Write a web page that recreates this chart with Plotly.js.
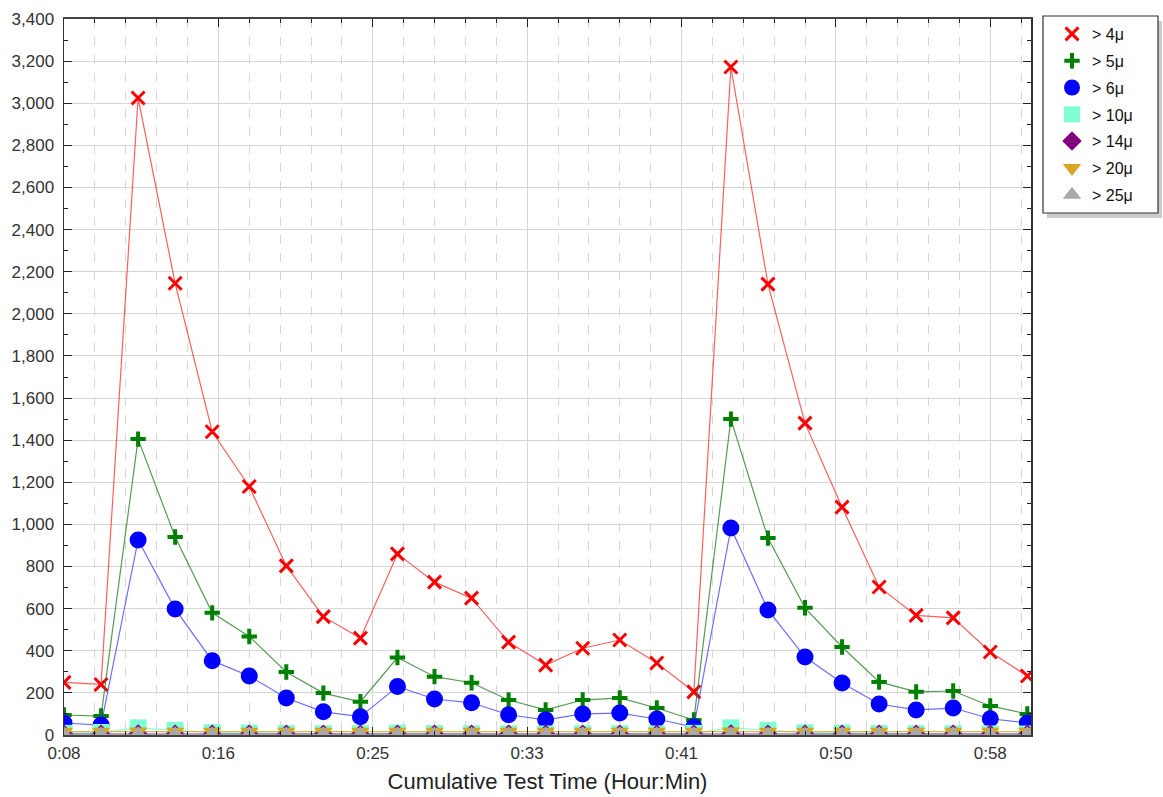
<!DOCTYPE html>
<html>
<head>
<meta charset="utf-8">
<script src="https://cdn.plot.ly/plotly-3.0.1.min.js"></script>
<style>
html,body{margin:0;padding:0;background:#fff;}
#chart{width:1163px;height:797px;}
</style>
</head>
<body>
<div id="chart"></div>
<script>
// Sample times (H:MM:SS of cumulative test time)
const times = ['0:08:20','0:10:20','0:12:20','0:14:20','0:16:20','0:18:20','0:20:20','0:22:20','0:24:20',
  '0:26:20','0:28:20','0:30:20','0:32:20','0:34:20','0:36:20','0:38:20','0:40:20','0:42:20',
  '0:44:20','0:46:20','0:48:20','0:50:20','0:52:20','0:54:20','0:56:20','0:58:20','1:00:20'];

const gt4  = [250,240,3025,2145,1440,1180,803,562,460,860,726,650,441,332,412,451,342,205,3172,2141,1481,1082,703,568,556,394,280];
const gt5  = [95,90,1405,940,580,468,299,199,158,368,277,248,166,119,166,176,128,71,1500,935,604,418,252,205,209,138,100];
const gt6  = [57,47,926,598,353,280,176,110,87,230,171,153,96,72,100,104,76,38,983,594,370,247,147,119,128,77,57];
const gt10 = [8,12,34,22,11,9,7,6,6,9,7,6,6,5,6,6,5,8,34,22,11,9,7,6,6,5,5];
const gt14 = [4,4,5,4,4,4,4,4,4,4,4,4,4,4,4,4,4,4,5,4,4,4,4,4,4,4,4];
const gt20 = [16,16,17,16,16,16,16,16,16,16,16,16,16,16,16,16,16,16,17,16,16,16,16,16,16,16,16];
const gt25 = [3,3,4,3,3,3,3,3,3,3,3,3,3,3,3,3,3,3,4,3,3,3,3,3,3,3,3];

const seriesNames = ['> 4\u03bc','> 5\u03bc','> 6\u03bc','> 10\u03bc','> 14\u03bc','> 20\u03bc','> 25\u03bc'];

// Axis ticks (times and their labels)
const tickTimes  = ['0:08:20','0:16:40','0:25:00','0:33:20','0:41:40','0:50:00','0:58:20'];
const tickLabels = ['0:08','0:16','0:25','0:33','0:41','0:50','0:58'];

function toSec(t){ const p=t.split(':').map(Number); return p[0]*3600+p[1]*60+p[2]; }
const xs = times.map(toSec);

const styles = [
  {color:'#ff0000', line:'rgba(255,40,40,0.75)', symbol:'x-thin', size:13, mline:{width:3,color:'#ff0000'}},
  {color:'#008000', line:'rgba(30,120,30,0.75)', symbol:'cross-thin', size:11, mline:{width:4,color:'#008000'}},
  {color:'#0000ff', line:'rgba(60,60,255,0.75)', symbol:'circle', size:17, mline:{width:0}},
  {color:'#7fffd4', line:'rgba(127,255,212,0.9)', symbol:'square', size:17, mline:{width:0}},
  {color:'#800080', line:'rgba(128,0,128,0.8)', symbol:'diamond', size:15, mline:{width:0}},
  {color:'#daa520', line:'rgba(218,165,32,0.8)', symbol:'triangle-down', size:16, mline:{width:0}},
  {color:'#a9a9a9', line:'rgba(169,169,169,0.8)', symbol:'triangle-up', size:16, mline:{width:0}}
];
const allValues = [gt4,gt5,gt6,gt10,gt14,gt20,gt25];

const traces = [];
allValues.forEach((vals,i)=>{
  const s = styles[i];
  traces.push({x:xs, y:vals, type:'scatter', mode:'lines', showlegend:false, hoverinfo:'skip',
    line:{color:s.line, width:1.2}, legendgroup:'g'+i});
  traces.push({x:xs, y:vals, type:'scatter', mode:'markers', name:seriesNames[i], legendgroup:'g'+i,
    marker:{symbol:s.symbol, size:s.size, color:s.color, line:s.mline}});
});

const FONT = 'Arial, "Liberation Sans", sans-serif';
const L=64, R=1031, T=19, B=735, W=R-L, H=B-T;
const px = v => (v-L)/W;   // pixel -> paper x
const py = v => (B-v)/H;   // pixel -> paper y

const layout = {
  width:1163, height:797,
  margin:{l:L, r:1163-R, t:T, b:797-B, pad:0},
  paper_bgcolor:'#ffffff', plot_bgcolor:'#ffffff',
  font:{family:FONT, color:'#333'},
  showlegend:true,
  xaxis:{
    range:[500, 3632],
    tickmode:'array', tickvals:tickTimes.map(toSec), ticktext:tickLabels,
    ticks:'inside', ticklen:8, tickwidth:1, tickcolor:'#222',
    showline:true, linecolor:'#444', linewidth:2, mirror:'ticks',
    showgrid:true, gridcolor:'#d6d6d6', gridwidth:1, zeroline:false,
    minor:{tickmode:'linear', tick0:0, dtick:100, ticks:'inside', ticklen:4, tickcolor:'#222',
      showgrid:true, gridcolor:'#d6d6d6', griddash:'dash', gridwidth:1},
    tickfont:{size:17, color:'#333', family:FONT},
    ticklabelstandoff:2,
    title:{text:'Cumulative Test Time (Hour:Min)', font:{size:22, color:'#222', family:FONT}, standoff:11}
  },
  yaxis:{
    range:[0,3400], tickmode:'linear', tick0:0, dtick:200, tickformat:',d',
    ticks:'inside', ticklen:8, tickwidth:1, tickcolor:'#222',
    showline:true, linecolor:'#333', linewidth:1.5, mirror:'ticks',
    showgrid:true, gridcolor:'#d6d6d6', gridwidth:1, zeroline:false,
    minor:{tickmode:'linear', tick0:0, dtick:100, ticks:'inside', ticklen:4, tickcolor:'#222', showgrid:false},
    tickfont:{size:17, color:'#333', family:FONT},
    ticklabelstandoff:5
  },
  legend:{
    x:px(1052), y:py(17), xanchor:'left', yanchor:'top',
    bgcolor:'rgba(0,0,0,0)', borderwidth:0,
    font:{size:16, color:'#111', family:FONT},
    traceorder:'grouped', tracegroupgap:3, itemclick:false
  },
  shapes:[
    {type:'rect', xref:'paper', yref:'paper', layer:'above',
     x0:px(1047), x1:px(1162), y0:py(218), y1:py(21), fillcolor:'#cccccc', line:{width:0}},
    {type:'rect', xref:'paper', yref:'paper', layer:'above',
     x0:px(1043), x1:px(1158), y0:py(213), y1:py(16), fillcolor:'#ffffff', line:{width:1.2, color:'#333'}}
  ]
};

Plotly.newPlot('chart', traces, layout, {displayModeBar:false, staticPlot:true});
</script>
</body>
</html>
